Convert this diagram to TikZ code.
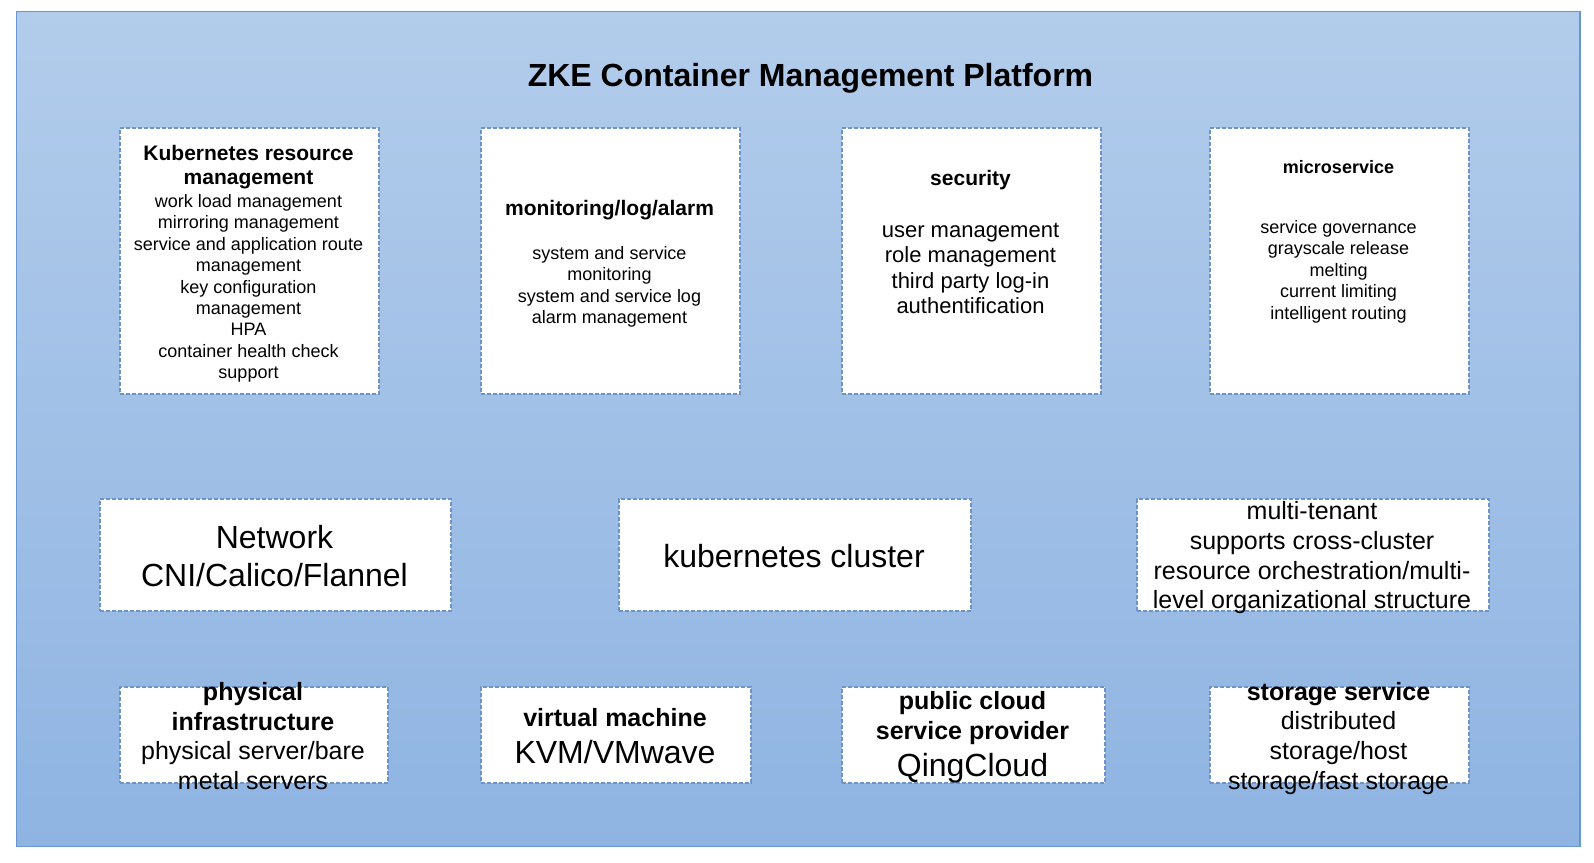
\documentclass[tikz,border=0pt]{standalone}
\usepackage{fontspec}
\setmainfont{Liberation Sans}
\definecolor{outtop}{RGB}{178,204,235}
\definecolor{outbot}{RGB}{143,180,226}
\definecolor{outline}{RGB}{104,150,206}
\definecolor{boxline}{RGB}{108,148,200}
\newcommand\tline[4]{\node[tb,#3] (#1) at (#2) {#4};}
\begin{document}
\begin{tikzpicture}[x=1pt,y=-1pt,
  box/.style={draw=boxline, fill=white, dash pattern=on 4pt off 2pt, line width=2pt,
    anchor=north west, inner sep=0pt},
  tb/.style={inner sep=0pt, anchor=base, text=black},
  ftitle/.style={font=\fontsize{32}{36}\selectfont\bfseries},
  fb21/.style={font=\fontsize{21}{24}\selectfont\bfseries},
  fb18/.style={font=\fontsize{18}{21}\selectfont\bfseries},
  fb25/.style={font=\fontsize{25}{30}\selectfont\bfseries},
  f18/.style={font=\fontsize{18}{21}\selectfont},
  f22/.style={font=\fontsize{22}{25}\selectfont},
  f25/.style={font=\fontsize{25}{30}\selectfont},
  f32/.style={font=\fontsize{32}{38}\selectfont}]
\useasboundingbox (0,0) rectangle (1594,862);
\node[draw=outline, line width=1.8pt, top color=outtop, bottom color=outbot,
  minimum width=1563.5pt, minimum height=835pt, anchor=north west, inner sep=0pt]
  (frame) at (15.5,10.5) {};
\tline{title}{810.5,86}{ftitle}{ZKE Container Management Platform}
% top row
\node[box, minimum width=259pt, minimum height=266pt] (b1) at (119,127) {};
\node[box, minimum width=259pt, minimum height=266pt] (b2) at (480,127) {};
\node[box, minimum width=259pt, minimum height=266pt] (b3) at (841,127) {};
\node[box, minimum width=259pt, minimum height=266pt] (b4) at (1209,127) {};
% middle row
\node[box, minimum width=351pt, minimum height=112pt] (n1) at (99,498) {};
\node[box, minimum width=352pt, minimum height=112pt] (n2) at (618,498) {};
\node[box, minimum width=352pt, minimum height=112pt] (n3) at (1136,498) {};
% bottom row
\node[box, minimum width=268pt, minimum height=96pt] (p1) at (119,686) {};
\node[box, minimum width=270pt, minimum height=96pt] (p2) at (480,686) {};
\node[box, minimum width=263pt, minimum height=96pt] (p3) at (841,686) {};
\node[box, minimum width=259pt, minimum height=96pt] (p4) at (1209,686) {};
% box 1
\tline{b1h1}{248.5,160.5}{fb21}{Kubernetes resource}
\tline{b1h2}{248.5,184.5}{fb21}{management}
\tline{b1l1}{248.5,207.5}{f18}{work load management}
\tline{b1l2}{248.5,228.9}{f18}{mirroring management}
\tline{b1l3}{248.5,250.3}{f18}{service and application route}
\tline{b1l4}{248.5,271.6}{f18}{management}
\tline{b1l5}{248.5,293}{f18}{key configuration}
\tline{b1l6}{248.5,314.4}{f18}{management}
\tline{b1l7}{248.5,335.8}{f18}{HPA}
\tline{b1l8}{248.5,357.1}{f18}{container health check}
\tline{b1l9}{248.5,378.5}{f18}{support}
% box 2
\tline{b2h}{609.5,215.8}{fb21}{monitoring/log/alarm}
\tline{b2l1}{609.5,259.1}{f18}{system and service}
\tline{b2l2}{609.5,280.6}{f18}{monitoring}
\tline{b2l3}{609.5,302}{f18}{system and service log}
\tline{b2l4}{609.5,323.5}{f18}{alarm management}
% box 3
\tline{b3h}{970.5,185.8}{fb21}{security}
\tline{b3l1}{970.5,237.5}{f22}{user management}
\tline{b3l2}{970.5,262.8}{f22}{role management}
\tline{b3l3}{970.5,288.2}{f22}{third party log-in}
\tline{b3l4}{970.5,313.5}{f22}{authentification}
% box 4
\tline{b4h}{1338.5,173.5}{fb18}{microservice}
\tline{b4l1}{1338.5,233.5}{f18}{service governance}
\tline{b4l2}{1338.5,254.9}{f18}{grayscale release}
\tline{b4l3}{1338.5,276.3}{f18}{melting}
\tline{b4l4}{1338.5,297.7}{f18}{current limiting}
\tline{b4l5}{1338.5,319.1}{f18}{intelligent routing}
% middle row text
\tline{n1l1}{274.5,548}{f32}{Network}
\tline{n1l2}{274.5,586.5}{f32}{CNI/Calico/Flannel}
\tline{n2l1}{794,567}{f32}{kubernetes cluster}
\tline{n3l1}{1312,519.7}{f25}{multi-tenant}
\tline{n3l2}{1312,549.4}{f25}{supports cross-cluster}
\tline{n3l3}{1312,579.1}{f25}{resource orchestration/multi-}
\tline{n3l4}{1312,608.7}{f25}{level organizational structure}
% bottom row text
\tline{p1l1}{253,700.5}{fb25}{physical}
\tline{p1l2}{253,730}{fb25}{infrastructure}
\tline{p1l3}{253,759.5}{f25}{physical server/bare}
\tline{p1l4}{253,789}{f25}{metal servers}
\tline{p2l1}{615,726}{fb25}{virtual machine}
\tline{p2l2}{615,763}{f32}{KVM/VMwave}
\tline{p3l1}{972.5,709.5}{fb25}{public cloud}
\tline{p3l2}{972.5,739}{fb25}{service provider}
\tline{p3l3}{972.5,776}{f32}{QingCloud}
\tline{p4l1}{1338.5,700}{fb25}{storage service}
\tline{p4l2}{1338.5,729.6}{f25}{distributed}
\tline{p4l3}{1338.5,759.3}{f25}{storage/host}
\tline{p4l4}{1338.5,789}{f25}{storage/fast storage}
\end{tikzpicture}
\end{document}
